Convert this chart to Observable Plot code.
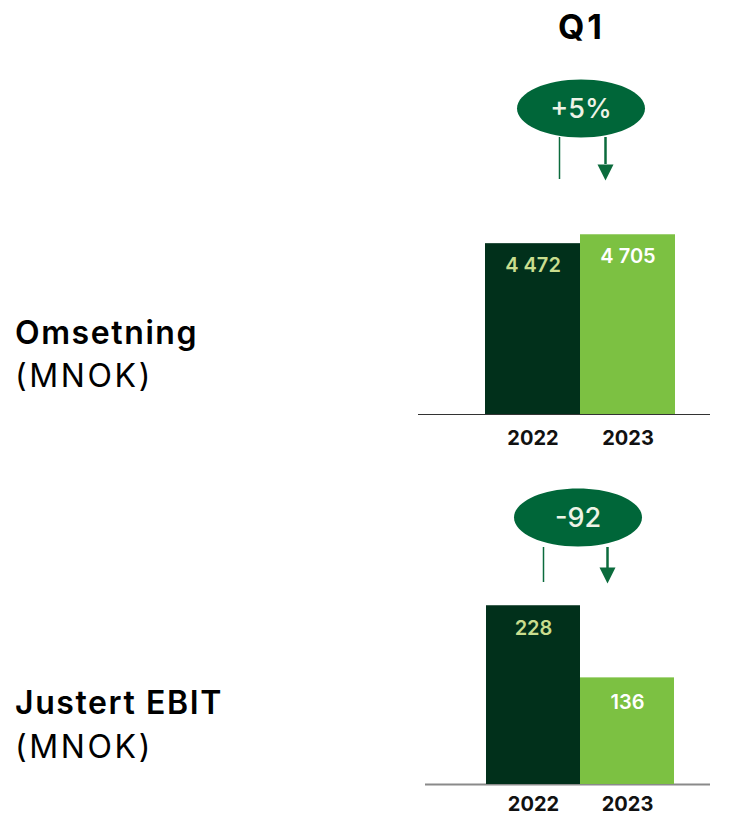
<!DOCTYPE html>
<html>
<head>
<meta charset="utf-8">
<script src="https://cdn.jsdelivr.net/npm/d3@7"></script>
<script src="https://cdn.jsdelivr.net/npm/@observablehq/plot@0.6"></script>
<style>
  html, body { margin: 0; padding: 0; background: #fff; }
  #root { position: relative; width: 739px; height: 815px; overflow: hidden; font-family: Inter, "Noto Sans", sans-serif; color: #000; }
  .lbl { position: absolute; left: 15px; font-size: 32px; line-height: 1; white-space: nowrap; letter-spacing: 2.6px; font-weight: 400; }
  .lbl.b { font-weight: 600; letter-spacing: 1.6px; }
  .plot { position: absolute; left: 0; }
  #q1 { position: absolute; left: 480px; width: 200px; text-align: center; font-size: 34px; font-weight: 700; line-height: 1; letter-spacing: 3px; padding-left: 3px; box-sizing: border-box; }
</style>
</head>
<body>
<div id="root"></div>
<script>
// ---- data ----
const periodLabel = "Q1";
const years = ["2022", "2023"];
const omsetning = [4472, 4705];
const justertEbit = [228, 136];
const metricNames = ["Omsetning", "Justert EBIT"];
const unitLabel = "(MNOK)";
const changeLabels = ["+5%", "-92"];

// ---- styles ----
const darkGreen = "#01301b";
const lightGreen = "#7cc142";
const badgeGreen = "#006639";
const arrowGreen = "#0b6b3c";
const darkLabel = "#c9dd8e";
const font = "Inter, 'Noto Sans', sans-serif";

const nb = d3.formatLocale({decimal: ",", thousands: "\u00a0", grouping: [3], currency: ["", " kr"]});
const fmt = nb.format(",d");

const ellipse = (rx, ry) => ({
  draw(ctx) {
    const k = 0.5523;
    ctx.moveTo(rx, 0);
    ctx.bezierCurveTo(rx, ry * k, rx * k, ry, 0, ry);
    ctx.bezierCurveTo(-rx * k, ry, -rx, ry * k, -rx, 0);
    ctx.bezierCurveTo(-rx, -ry * k, -rx * k, -ry, 0, -ry);
    ctx.bezierCurveTo(rx * k, -ry, rx, -ry * k, rx, 0);
    ctx.closePath();
  }
});
const arrowHead = {
  draw(ctx) { ctx.moveTo(-8, 0); ctx.lineTo(8, 0); ctx.lineTo(0, 16); ctx.closePath(); }
};

function panel(values, change, o) {
  const data = years.map((y, i) => ({year: y, value: values[i]}));
  return Plot.plot({
    width: 739, height: o.height,
    marginTop: o.mt, marginBottom: o.mb, marginLeft: o.ml, marginRight: o.mr,
    x: {domain: years, padding: 0, label: null},
    y: {domain: o.ydomain, axis: null},
    color: {domain: years, range: [darkGreen, lightGreen]},
    style: {fontFamily: font, background: "transparent", overflow: "visible"},
    marks: [
      Plot.ruleY([0], {stroke: o.baseColor, strokeWidth: o.baseWidth, insetLeft: o.baseL, insetRight: o.baseR}),
      Plot.barY(data, {x: "year", y: "value", fill: "year"}),
      Plot.text(data, {filter: d => d.year === years[0], x: "year", y: "value", text: d => fmt(d.value),
        dy: o.labelDy, fill: darkLabel, fontSize: 20, fontWeight: 600}),
      Plot.text(data, {filter: d => d.year === years[1], x: "year", y: "value", text: d => fmt(d.value),
        dy: o.labelDy2, fill: "#ffffff", fontSize: 20, fontWeight: 600}),
      Plot.axisX({tickSize: 0, tickPadding: o.tickPad, fontSize: 20, fontWeight: 700, fill: "#111", lineAnchor: "top", label: null}),
      // change annotation
      Plot.ruleX([years[0]], {x: d => d, dx: o.lineDx, stroke: arrowGreen, strokeWidth: 1.5, insetTop: o.lineTop, insetBottom: o.lineBot}),
      Plot.ruleX([years[1]], {x: d => d, dx: o.arrowDx, stroke: arrowGreen, strokeWidth: 2.5, insetTop: o.lineTop, insetBottom: o.shaftBot}),
      Plot.dot([years[1]], {x: d => d, frameAnchor: "top", dx: o.arrowDx, dy: o.headDy, symbol: arrowHead, fill: arrowGreen, stroke: "none"}),
      Plot.dot([change], {x: () => years[0], frameAnchor: "top", dx: o.badgeDx, dy: o.badgeDy, symbol: ellipse(64, 29), fill: badgeGreen, stroke: "none"}),
      Plot.text([change], {x: () => years[0], frameAnchor: "top", lineAnchor: "middle", dx: o.badgeDx, dy: o.badgeDy + 1, text: d => d,
        fill: "#eef3e6", fontSize: 27, fontWeight: 500})
    ]
  });
}

const root = document.getElementById("root");

const topPanel = panel(omsetning, changeLabels[0], {
  height: 450, mt: 223, mb: 36, ml: 485, mr: 64, ydomain: [0, 5000],
  baseColor: "#333", baseWidth: 1.2, baseL: -67, baseR: -35,
  labelDy: 22, labelDy2: 22, tickPad: 16,
  lineDx: 26.5, arrowDx: -22.5, lineTop: -86, lineBot: 235, shaftBot: 250, headDy: -59,
  badgeDx: 48, badgeDy: -115
});
topPanel.classList.add("plot"); topPanel.style.top = "0px";
root.appendChild(topPanel);

const bottomPanel = panel(justertEbit, changeLabels[1], {
  height: 365, mt: 138, mb: 31, ml: 486, mr: 65, ydomain: [0, 250],
  baseColor: "#8a8a8a", baseWidth: 2, baseL: -61, baseR: -36,
  labelDy: 23, labelDy2: 25, tickPad: 12,
  lineDx: 10, arrowDx: -20, lineTop: -41, lineBot: 202, shaftBot: 216, headDy: -21,
  badgeDx: 44.5, badgeDy: -71
});
bottomPanel.classList.add("plot"); bottomPanel.style.top = "450px";
root.appendChild(bottomPanel);

function addLabel(text, cls, topPx, extra) {
  const d = document.createElement("div");
  d.className = cls; d.textContent = text; d.style.top = topPx + "px";
  if (extra) d.id = extra;
  root.appendChild(d);
}
addLabel(periodLabel, "", 10, "q1");
addLabel(metricNames[0], "lbl b", 317);
addLabel(unitLabel, "lbl", 360);
addLabel(metricNames[1], "lbl b", 687);
addLabel(unitLabel, "lbl", 731);
</script>
</body>
</html>
